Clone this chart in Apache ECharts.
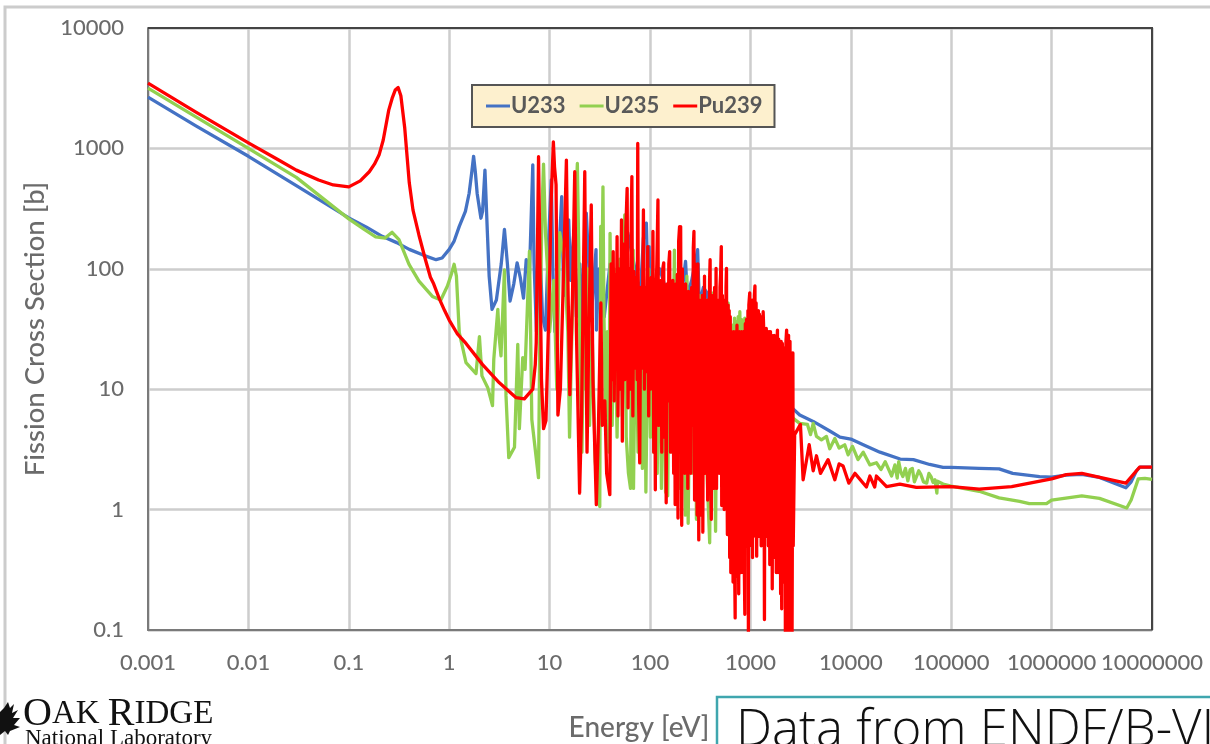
<!DOCTYPE html>
<html>
<head>
<meta charset="utf-8">
<style>html,body{margin:0;padding:0;background:#fff;overflow:hidden}#chart{width:1210px;height:744px;filter:blur(0.5px)}</style>
<script src="https://cdn.jsdelivr.net/npm/echarts@6/dist/echarts.min.js"></script>
</head>
<body>
<div id="chart"></div>
<script>
const xTickLabels = ['0.001','0.01','0.1','1','10','100','1000','10000','100000','1000000','10000000'];
const yTickLabels = ['0.1','1','10','100','1000','10000'];

const u233Energy = [0.001,0.003,0.01,0.03,0.1,0.15,0.215,0.3,0.4,0.55,0.74,0.85,1,1.12,1.26,1.45,1.58,1.68,1.75,1.82,1.9,2.07,2.15,2.27,2.4,2.5,2.67,2.95,3.3,3.55,3.8,4.04,4.4,4.75,5.1,5.5,5.85,6.3,6.8,7,
  7.4,7.9,8.5,9.1,9.7,10.4,10.8,11.3,12.3,13.2,13.8,14.6,15.5,16.2,17.5,18.5,20,21.5,23.2,26,29,29.3,31,35,40,45,60,80,86,92,95,98,99,105,125,150,175,200,226,235,260,298,310,340,370,400,500,650,800,1000,1300,2000,2500,
  2600,3100,4220,6170,7800,10000,13300,19500,31000,42000,61000,83000,100000,190000,300000,410000,760000,1000000,1400000,2000000,3000000,5500000,6200000,7000000,7600000,10000000];
const u233Sigma = [2670,1540,860,490,265,222,186,165,145,130,119,123,145,170,225,300,424,640,860,640,420,263,300,660,200,87,46,55,110,212,110,54,75,112,85,57,119,90,730,111,
  30,200,40,31,150,547,90,30,120,397,60,100,255,80,210,40,110,30,290,40,144,31,100,40,110,40,200,60,180,239,80,153,99,60,100,60,80,50,115,60,80,144,50,70,63,40,50,30,25,20,18,14,8,
  7,6.1,5.4,4.5,4,3.85,3.45,3,2.63,2.6,2.37,2.24,2.24,2.2,2.18,2,1.88,1.86,1.93,1.96,1.85,1.52,1.7,2.1,2.25,2.25];

const u235Energy = [0.001,0.003,0.01,0.03,0.1,0.14,0.185,0.23,0.27,0.316,0.398,0.5,0.68,0.825,0.96,1.05,1.12,1.18,1.26,1.47,1.85,2,2.12,2.42,2.7,2.78,3.05,3.16,3.28,3.55,3.68,3.92,4.47,4.82,5,5.4,5.7,6.3,6.65,7.75,
  8,8.4,8.7,9.1,9.6,10,11,11.8,12.6,14,15.2,15.8,16.5,17.5,18.9,19.5,20.3,21,22,23,24,25,26.5,28.5,30,31.6,32.3,33,34,34.8,36,37.5,39,40,41,42,44,47,50,53,56,58,61,64,66,68,68.5,
  72,76,80,84,88,91,94,97,101,105,109,113,118,124,130,137,143,150,157,165,175,182,190,200,210,225,233,240,255,270,280,290,310,330,350,370,393,410,425,450,470,500,540,560,600,620,640,650,665,680,695,710,725,740,755,770,785,800,815,830,850,865,880,895,910,925,960,1010,1080,1140,1230,1320,1400,1480,1560,1620,1720,1820,1950,2050,2200,2350,2500,2600,
  2650,3100,3700,3970,4220,4550,5100,5720,6170,6930,7650,8700,9400,10400,11800,13300,15500,18000,20000,22000,25500,27500,29000,30000,31500,33000,35000,37000,39000,41000,43000,45000,47500,50000,53000,57000,60000,63000,66000,69000,72000,73000,83000,100000,190000,300000,480000,600000,890000,1000000,2000000,3000000,5600000,6200000,7300000,8500000,10000000];
const u235Sigma = [3170,1830,1000,575,260,215,184,180,201,175,109,79,59,55,72,90,109,87,29.5,16.6,13.5,27.3,12.9,10.3,7.3,17.7,46,26,18.9,98,8.8,2.7,3.3,23.6,4.7,18.3,14.6,140,5.6,1.84,
  30,300,740,200,90,30,80,10,200,120,30,4,20,150,750,150,10,3,60,10,100,5,30,2.5,1.5,1.06,225,60,480,40,6,30,3,197,190,5,100,4,120,6,280,4,2,1.5,100,143,1.5,
  50,3,60,2.2,70,1.4,1.38,100,4,80,3,60,2,50,1.5,50,1.4,1.3,60,3,143,2,50,1.5,70,0.9,87,0.77,60,2,70,0.83,60,1.5,45,2,0.53,40,63,0.66,50,3,1.3,40,52,3,30,8,34,10,39,9,36,8,40,12,44,10,38,8,36,12,39,8,36,5,30,4,20,3,25,3,20,4,26,3,15,4,20,4,15,5,10,6,
  5.75,5.2,5.1,4.2,5.2,4.05,3.8,4.05,3.2,3.9,3.25,3.45,2.85,3.35,2.6,3,2.35,2.45,2.15,2.5,1.9,2.35,1.83,2.5,2.05,1.88,2.2,1.73,2.15,2.2,1.7,1.66,2.1,1.95,1.7,1.66,2,1.88,1.68,1.77,1.37,1.72,1.63,1.57,1.42,1.25,1.17,1.12,1.12,1.2,1.3,1.24,1.03,1.2,1.8,1.82,1.78];

const pu239Energy = [0.001,0.003,0.01,0.02,0.03,0.05,0.07,0.1,0.13,0.16,0.18,0.2,0.22,0.25,0.27,0.29,0.31,0.33,0.36,0.4,0.436,0.5,0.58,0.65,0.7,0.8,0.9,1,1.2,1.47,2.15,3.16,4.64,5.6,6.8,7.2,7.36,7.6,7.76,7.95,8.3,8.7,9.2,9.8,10.4,10.9,11.2,11.6,11.9,12.1,12.8,13.8,14.7,15.3,15.9,16.9,17.8,18.5,19.9,20.8,21.6,22.4,23,23.6,24.6,26,27,29.2,30.5,32.4,33.5,35.5,37,39.8,
  41,42,43,44,45,46,47,48,49,50.5,52,53,54.5,56,57.5,59.2,60.5,62,63.5,65,66,67.5,69,71,73,74.5,75.5,77,79,81,83,85,86,88,90,92,94,95,97,99,101,103,105,107,109,111,113,115,117,120,122,124,127,129,131,134,137,139,142,145,148,151,154,157,160,163,166,169,172,175,178,181,184,187,190,193,197,200,202,204,207,210,214,218,222,226,230,234,238,242,246,250,255,260,265,270,274,278,282,286,290,295,300,303,306,312,316,320,326,332,336,341,345,349,354,358,364,370,375,381,386,392,397,402,408,414,420,426,432,440,446,455,460,468,475,483,490,498,505,513,518,526,533,541,548,556,565,572,578,585,590,600,606,615,622,630,638,646,655,665,672,682,695,705,715,725,735,745,755,765,775,785,795,805,815,825,835,845,855,865,880,890,900,915,930,945,955,965,985,1000,1012,1025,1038,1050,1065,1080,1095,1110,1125,1140,1155,1170,1185,1200,1215,1230,1248,1265,1280,1300,1320,1340,1360,1380,1400,1420,1440,1460,1485,1510,1535,1560,1585,1610,1630,1650,1675,1700,1725,1755,1780,1810,1840,1860,1885,1915,1945,1975,2000,2025,2050,2080,2110,2140,2175,2205,2230,2260,2295,2330,2365,2400,2440,2480,2520,2560,2600,2650,
  2670,2760,3150,3350,3850,4220,4550,4990,5940,6930,7650,8380,9550,11000,14300,15500,17300,18000,22700,30800,45000,100000,190000,400000,1000000,1400000,2000000,5500000,7500000,10000000];
const pu239Sigma = [3490,2000,1110,802,660,546,497,479,537,640,740,880,1170,2080,2600,3050,3200,2740,1500,520,307,190,119,85,75,56,45,37.5,29,24,16,11.3,8.5,8.3,10,16,24.4,200,853,200,12,4.7,5.5,40,400,1135,700,497,30,6.1,10,100,800,60,9,60,640,30,1.37,6,60,640,30,3,30,339,12,1.1,4,52,5,8,2,1.33,
  110,12,139,8,90,15,185,6,100,10,255,3.7,160,12,220,466,7,100,10,260,583,6,95,15,85,12,1100,8,2.44,70,15,100,308,10,70,14,80,153,6,60,10,85,12,204,3,80,1.46,65,110,373,5,70,6,80,3,100,112,4,70,1.14,75,8,110,139,3,65,5,80,2,60,1.1,75,6,90,0.85,170,224,3,224,224,0.74,100,5,60,2,75,4,55,1.5,65,4,55,2,70,5,150,204,1.2,110,3,65,0.9,110,112,0.56,55,3,50,0.9,60,0.65,50,3,87,2,45,4,55,1.2,50,4,80,119,2,0.83,55,5,60,1.5,70,3,101,1.5,50,4,55,2,70,90,153,1.08,60,3,50,1,55,5,70,101,2,0.62,50,0.7,45,0.4,40,0.3,30,0.5,28,0.25,30,0.4,0.126,30,0.4,34,0.28,30,0.2,30,0.35,28,0.3,30,0.4,28,0.3,30,0.5,0.135,35,0.6,38,0.5,45,0.09,50,63,0.6,55,0.5,55,0.4,50,0.7,60,72,0.6,52,0.41,45,0.8,45,0.6,42,0.9,40,0.5,38,0.7,44,30,0.122,32,0.7,32,0.6,30,0.5,30,0.35,30,0.8,28,0.22,27,0.4,28,0.7,27,0.3,25,31,0.3,26,0.5,25,0.2,25,0.15,24,0.25,22,0.3,21,0.09,25,31,31,0.09,28,0.09,25,0.09,20,0.09,20,
  0.5,4.2,5.1,1.77,3.46,2.1,2.8,2,2.6,1.77,2.4,2.3,1.66,2,1.54,1.9,1.54,1.9,1.55,1.63,1.53,1.55,1.48,1.55,1.8,1.95,2,1.66,2.25,2.25];

const pairs = (xs, ys) => xs.map((x, i) => [x, ys[i]]);
const axisText = {color:'#6b6b6b', fontFamily:'Lato', fontWeight:500, fontSize:22};
const lineSeries = (name, xs, ys, color) => ({
  name, type:'line', data:pairs(xs, ys), showSymbol:false, symbol:'none', clip:true,
  smooth:false, animation:false,
  lineStyle:{color, width:3.3, join:'round'}, itemStyle:{color}
});

const chart = echarts.init(document.getElementById('chart'), null, {renderer:'canvas', width:1210, height:744});
chart.setOption({
  backgroundColor:'#fff',
  animation:false,
  grid:{left:148, top:28, width:1004, height:602, show:false, outerBoundsMode:'none', containLabel:false},
  legend:{
    left:472, top:85, selectedMode:false, orient:'horizontal',
    backgroundColor:'#FDF0CE', borderColor:'#555', borderWidth:2,
    padding:[10,12,10,14], itemWidth:24, itemHeight:3, itemGap:14, icon:'rect',
    textStyle:{fontFamily:'Lato', fontSize:22, fontWeight:'bold', color:'#595959', padding:[3,0,0,-4]},
    data:['U233','U235','Pu239']
  },
  xAxis:{
    type:'log', logBase:10, min:0.001, max:10000000, interval:1,
    name:'Energy [eV]', nameLocation:'middle', nameGap:84,
    nameTextStyle:{color:'#6b6b6b', fontFamily:'Lato', fontWeight:500, fontSize:28, padding:[0,22,0,0]},
    axisLine:{show:true, onZero:false, lineStyle:{color:'#7a7a7a', width:2}},
    axisTick:{show:false}, minorTick:{show:false},
    splitLine:{show:true, lineStyle:{color:'#cdcdcd', width:2.5}},
    axisLabel:{...axisText, margin:22, interval:0, showMinLabel:true, showMaxLabel:true, hideOverlap:false,
      formatter:v => xTickLabels[Math.round(Math.log10(v)) + 3]}
  },
  yAxis:{
    type:'log', logBase:10, min:0.1, max:10000, interval:1,
    name:'Fission Cross Section [b]', nameLocation:'middle', nameGap:96, nameRotate:90,
    nameTextStyle:{color:'#6b6b6b', fontFamily:'Lato', fontWeight:500, fontSize:27.5},
    axisLine:{show:true, onZero:false, lineStyle:{color:'#7a7a7a', width:2}},
    axisTick:{show:false}, minorTick:{show:false},
    splitLine:{show:true, lineStyle:{color:'#cdcdcd', width:2.5}},
    axisLabel:{...axisText, margin:24, showMinLabel:true, showMaxLabel:true,
      formatter:v => yTickLabels[Math.round(Math.log10(v)) + 1]}
  },
  series:[
    lineSeries('U233', u233Energy, u233Sigma, '#4472C4'),
    lineSeries('U235', u235Energy, u235Sigma, '#92D050'),
    lineSeries('Pu239', pu239Energy, pu239Sigma, '#FF0000')
  ],
  graphic:[
    {type:'rect', silent:true, z:-1, shape:{x:5, y:7, width:1400, height:900}, style:{fill:'none', stroke:'#cccccc', lineWidth:3}},
    {type:'polyline', silent:true, z:1, shape:{points:[[148,28],[1152,28],[1152,630]]}, style:{fill:'none', stroke:'#444444', lineWidth:2}},
    {type:'polygon', silent:true, shape:{points:[[0,712],[4,708],[8,702],[10,708],[14,704],[12,713],[18,710],[13,718],[20,718],[14,725],[20,727],[10,731],[8,735],[5,731],[0,735]]}, style:{fill:'#111'}},
    {type:'text', silent:true, left:23, top:694, style:{
      text:'{a|O}{b|AK }{a|R}{b|IDGE}', fill:'#111',
      rich:{a:{fontFamily:'Liberation Serif', fontSize:40, fill:'#111'}, b:{fontFamily:'Liberation Serif', fontSize:33, fill:'#111'}}
    }},
    {type:'text', silent:true, left:25, top:727, style:{text:'National Laboratory', fontFamily:'Liberation Serif', fontSize:23, fill:'#111'}},
    {type:'rect', silent:true, shape:{x:717, y:697, width:700, height:200}, style:{fill:'#fff', stroke:'#3FA6AE', lineWidth:2.5}},
    {type:'text', silent:true, left:736, top:706, style:{text:'Data from ENDF/B-VI', fontFamily:'Open Sans', fontWeight:300, fontSize:51, fill:'#111'}}
  ]
});
</script>
</body>
</html>
